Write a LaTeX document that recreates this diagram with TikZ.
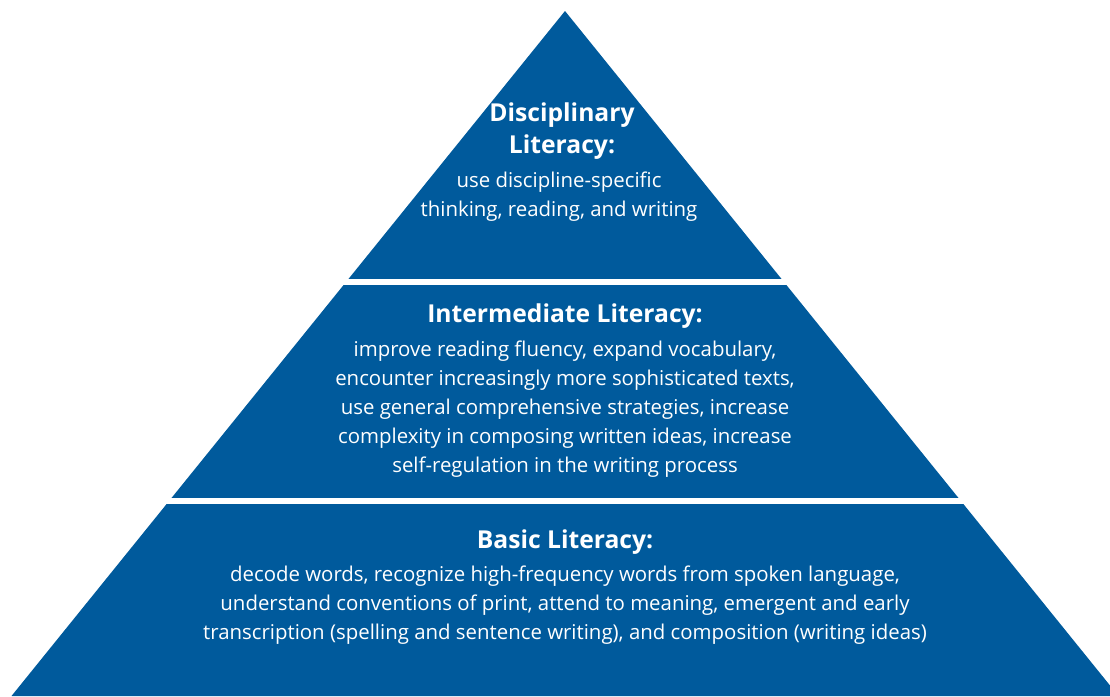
\documentclass[tikz,border=0pt]{standalone}
\usepackage{fontspec}
\setmainfont{Open Sans}
\usetikzlibrary{positioning}
\definecolor{pyrblue}{RGB}{0,90,156}

\begin{document}
\begin{tikzpicture}[
    x=0.75pt, y=-0.75pt,
    tier/.style={fill=pyrblue, draw=none},
    gap/.style={draw=white, line width=4.5pt},
    heading/.style={text=white, align=center, inner sep=0pt, font=\fontsize{18.5}{24}\selectfont\bfseries},
    body/.style={text=white, align=center, inner sep=0pt, font=\fontsize{15.3}{21.75}\selectfont}
    ]
    \useasboundingbox (0,0) rectangle (1110,696);
    \clip (0,0) rectangle (1110,696);

    % Pyramid
    \coordinate (apex) at (565,11);
    \coordinate (bl) at (11.5,696);
    \coordinate (br) at (1118.5,696);
    \fill[tier] (apex) -- (br) -- (bl) -- cycle;
    \draw[gap] (0,282) -- (1110,282);
    \draw[gap] (0,501) -- (1110,501);

    % Nodes
    \node[heading] (disc) at (562,131) {Disciplinary\\Literacy:};
    \node[body] (disc_txt) at (559,197) {use discipline-specific\\thinking, reading, and writing};

    \node[heading] (inter) at (565,316) {Intermediate Literacy:};
    \node[body] (inter_txt) at (565,409.5) {improve reading fluency, expand vocabulary,\\encounter increasingly more sophisticated texts,\\use general comprehensive strategies, increase\\complexity in composing written ideas, increase\\self-regulation in the writing process};

    \node[heading] (basic) at (565,542) {Basic Literacy:};
    \node[body] (basic_txt) at (565,605.5) {decode words, recognize high-frequency words from spoken language,\\understand conventions of print, attend to meaning, emergent and early\\transcription (spelling and sentence writing), and composition (writing ideas)};
\end{tikzpicture}
\end{document}
